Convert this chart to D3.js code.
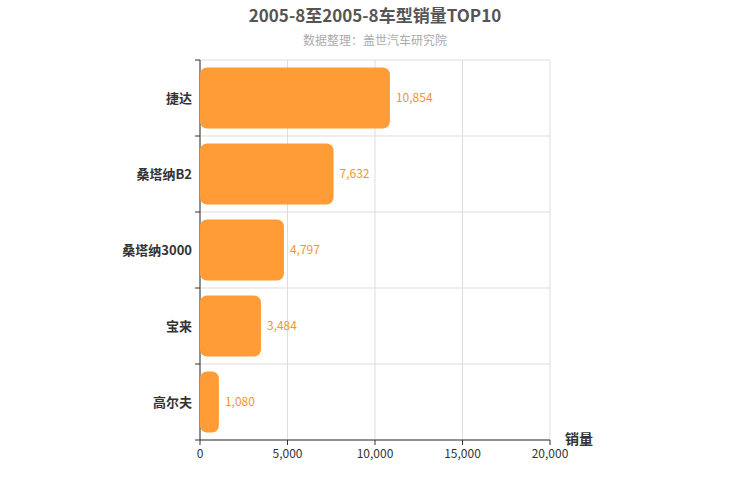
<!DOCTYPE html><html><head><meta charset="utf-8"><script src="https://cdn.jsdelivr.net/npm/d3@7"></script>
<style>body{margin:0;background:#fff}text{font-family:"Noto Sans CJK SC","Noto Sans",sans-serif}</style></head><body>
<svg id="c" width="750" height="500"></svg>
<script>
const categories=["捷达","桑塔纳B2","桑塔纳3000","宝来","高尔夫"];
const values=[10854,7632,4797,3484,1080];
const xTicks=[0,5000,10000,15000,20000];
const svg=d3.select("#c");
const L=200,R=550,T=60,B=440;
const x=d3.scaleLinear().domain([0,20000]).range([L,R]);
const y=d3.scaleBand().domain(categories).range([T,B]).paddingInner(0.2).paddingOuter(0.1);
const step=y.step();
// grid
xTicks.forEach(t=>svg.append("line").attr("x1",x(t)).attr("x2",x(t)).attr("y1",T).attr("y2",B).attr("stroke","#ddd"));
for(let i=0;i<=categories.length;i++){const yy=T+i*(B-T)/categories.length;svg.append("line").attr("x1",L).attr("x2",R).attr("y1",yy).attr("y2",yy).attr("stroke","#ddd");
svg.append("line").attr("x1",L-5).attr("x2",L).attr("y1",yy).attr("y2",yy).attr("stroke","#333");}
svg.append("line").attr("x1",L).attr("x2",L).attr("y1",T).attr("y2",B).attr("stroke","#333");
svg.append("line").attr("x1",L).attr("x2",R).attr("y1",B).attr("y2",B).attr("stroke","#333");
xTicks.forEach(t=>{svg.append("line").attr("x1",x(t)).attr("x2",x(t)).attr("y1",B).attr("y2",B+5).attr("stroke","#333");
svg.append("text").attr("x",x(t)).attr("y",B+18).attr("text-anchor","middle").attr("font-size",12).attr("fill","#333").text(d3.format(",")(t));});
const band=(B-T)/categories.length;
categories.forEach((c,i)=>{const cy=T+band*(i+0.5),h=61,v=values[i];
svg.append("rect").attr("x",x(0)).attr("y",cy-h/2).attr("width",x(v)-x(0)).attr("height",h).attr("rx",7).attr("fill","#ff9c35");
svg.append("text").attr("x",x(v)+6).attr("y",cy+4).attr("font-size",12).attr("fill","#f0962f").text(d3.format(",")(v));
svg.append("text").attr("x",L-8).attr("y",cy+5).attr("text-anchor","end").attr("font-size",13).attr("font-weight","bold").attr("fill","#333").text(c);});
svg.append("text").attr("x",375).attr("y",22).attr("text-anchor","middle").attr("font-size",17).attr("font-weight","bold").attr("fill","#555").text("2005-8至2005-8车型销量TOP10");
svg.append("text").attr("x",375).attr("y",45).attr("text-anchor","middle").attr("font-size",12).attr("fill","#aaa").text("数据整理：盖世汽车研究院");
svg.append("text").attr("x",565).attr("y",444).attr("font-size",14).attr("font-weight","bold").attr("fill","#333").text("销量");
</script></body></html>
